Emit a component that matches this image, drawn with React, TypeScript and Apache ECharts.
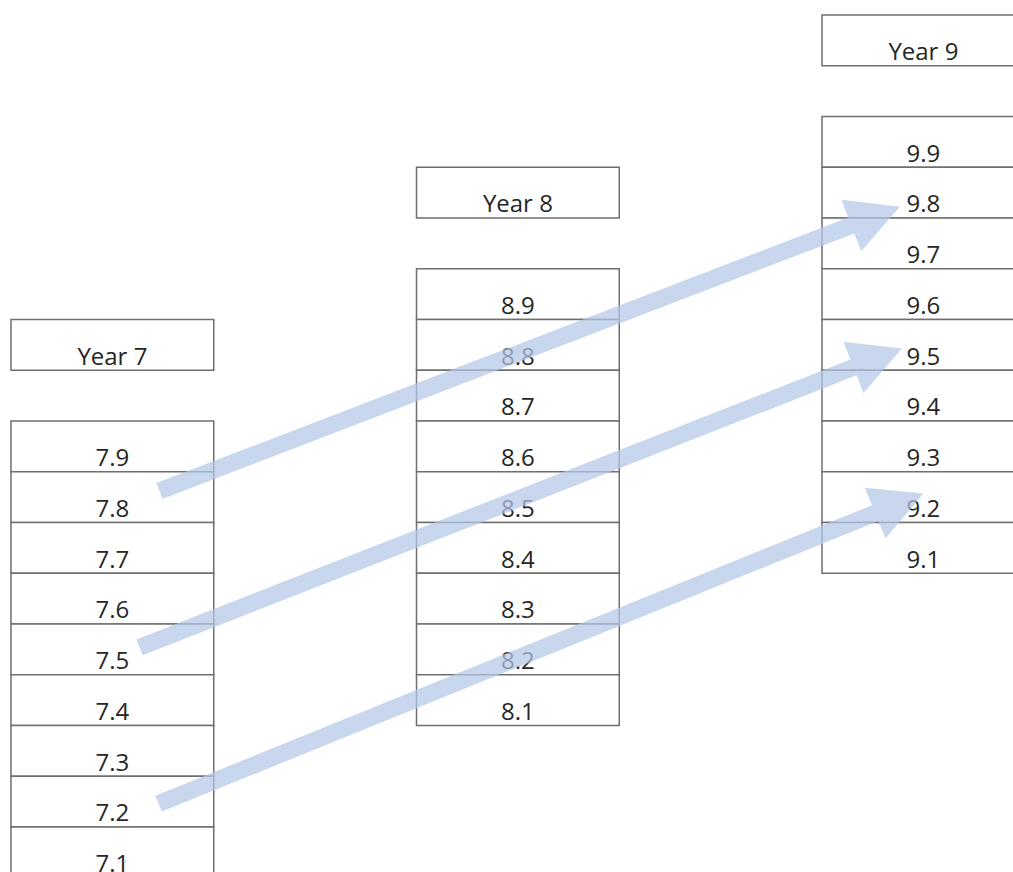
import React, { useEffect, useRef } from "react";
import * as echarts from "echarts";

// ---- data ----
const headers = ["Year 7", "Year 8", "Year 9"];
const year7 = ["7.9", "7.8", "7.7", "7.6", "7.5", "7.4", "7.3", "7.2", "7.1"];
const year8 = ["8.9", "8.8", "8.7", "8.6", "8.5", "8.4", "8.3", "8.2", "8.1"];
const year9 = ["9.9", "9.8", "9.7", "9.6", "9.5", "9.4", "9.3", "9.2", "9.1"];
const arrowLinks = [
  ["7.8", "9.8"],
  ["7.5", "9.5"],
  ["7.2", "9.2"],
];

// ---- layout (not data) ----
const W = 1013;
const H = 872;
const GRID_LEFT = 11;
const GRID_TOP = 15;
const ROW_PX = 50.75;
const COL_PX = 405.5;
const BOX_W = 0.5; // column units
const HEADER_ROW_BASE = 6;
const CELL_ROW_BASE = 8;
const COL_SHIFT = 3;
// anchor offsets inside the start / end cells: [x offset in column units, row fraction]
const arrowAnchors = [
  { tail: [0.366, 0.38], tip: [0.192, 0.78] },
  { tail: [0.317, 0.46], tip: [0.197, 0.57] },
  { tail: [0.364, 0.54], tip: [0.25, 0.43] },
];
const SHAFT_HALF = 8.5;
const HEAD_LEN = 52;
const HEAD_HALF = 27.5;

const columns = [year7, year8, year9];

type Cell = { col: number; row: number; label: string };
const cells: Cell[] = [];
const cellRow: Record<string, { col: number; row: number }> = {};
columns.forEach((vals, c) => {
  cells.push({ col: c, row: HEADER_ROW_BASE - COL_SHIFT * c, label: headers[c] });
  vals.forEach((v, i) => {
    const row = CELL_ROW_BASE - COL_SHIFT * c + i;
    cells.push({ col: c, row, label: v });
    cellRow[v] = { col: c, row };
  });
});

const arrowData = arrowLinks.map(([a, b], i) => {
  const s = cellRow[a];
  const e = cellRow[b];
  const an = arrowAnchors[i];
  return [s.col + an.tail[0], s.row + an.tail[1], e.col + an.tip[0], e.row + an.tip[1]];
});

export default function App() {
  const ref = useRef<HTMLDivElement>(null);
  useEffect(() => {
    if (!ref.current) return;
    const chart = echarts.init(ref.current, undefined, { renderer: "svg" });
    const option: any = {
      animation: false,
      backgroundColor: "#ffffff",
      grid: { left: GRID_LEFT, top: GRID_TOP, right: 0, bottom: 0 },
      xAxis: { type: "value", min: 0, max: (W - GRID_LEFT) / COL_PX, show: false },
      yAxis: { type: "value", min: 0, max: (H - GRID_TOP) / ROW_PX, inverse: true, show: false },
      series: [
        {
          type: "custom",
          z: 1,
          clip: false,
          data: cells.map((c) => [c.col, c.row]),
          encode: { x: 0, y: 1 },
          renderItem: (params: any, api: any) => {
            const c = api.value(0);
            const r = api.value(1);
            const p0 = api.coord([c, r]);
            const p1 = api.coord([c + BOX_W, r + 1]);
            const h = p1[1] - p0[1];
            const label = cells[params.dataIndex].label;
            return {
              type: "group",
              children: [
                {
                  type: "rect",
                  shape: { x: p0[0], y: p0[1], width: p1[0] - p0[0], height: h },
                  style: { fill: "#ffffff", stroke: "#6f6f6f", lineWidth: 1.5 },
                },
                {
                  type: "text",
                  x: (p0[0] + p1[0]) / 2,
                  y: p0[1] + h * 0.7,
                  style: {
                    text: label,
                    fill: "#262626",
                    font: '24px "Open Sans"',
                    align: "center",
                    verticalAlign: "middle",
                  },
                },
              ],
            };
          },
        },
        {
          type: "custom",
          z: 5,
          clip: false,
          data: arrowData,
          encode: { x: [0, 2], y: [1, 3] },
          renderItem: (params: any, api: any) => {
            const t = api.coord([api.value(0), api.value(1)]);
            const p = api.coord([api.value(2), api.value(3)]);
            const dx = p[0] - t[0];
            const dy = p[1] - t[1];
            const len = Math.sqrt(dx * dx + dy * dy);
            const ux = dx / len;
            const uy = dy / len;
            const nx = -uy;
            const ny = ux;
            const bx = p[0] - ux * HEAD_LEN;
            const by = p[1] - uy * HEAD_LEN;
            const pts = [
              [t[0] + nx * SHAFT_HALF, t[1] + ny * SHAFT_HALF],
              [bx + nx * SHAFT_HALF, by + ny * SHAFT_HALF],
              [bx + nx * HEAD_HALF, by + ny * HEAD_HALF],
              [p[0], p[1]],
              [bx - nx * HEAD_HALF, by - ny * HEAD_HALF],
              [bx - nx * SHAFT_HALF, by - ny * SHAFT_HALF],
              [t[0] - nx * SHAFT_HALF, t[1] - ny * SHAFT_HALF],
            ];
            return {
              type: "polygon",
              shape: { points: pts },
              style: { fill: "rgba(180,199,231,0.72)", stroke: "none" },
            };
          },
        },
      ],
    };
    chart.setOption(option);
    return () => chart.dispose();
  }, []);
  return (
    <div
      ref={ref}
      style={{ position: "fixed", left: 0, top: 0, width: W, height: H }}
    />
  );
}
